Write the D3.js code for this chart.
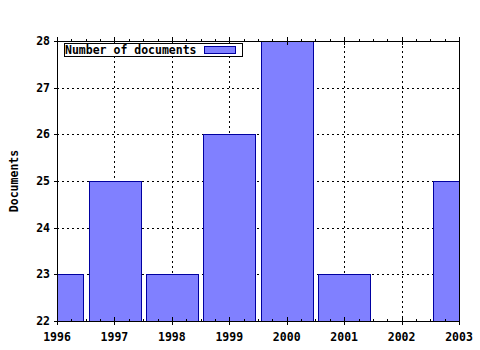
<!DOCTYPE html>
<html>
<head>
<meta charset="utf-8">
<script src="https://cdn.jsdelivr.net/npm/d3@7"></script>
<style>
body { margin: 0; background: #fff; }
text { font-family: "DejaVu Sans Mono", monospace; font-weight: bold; fill: #000; }
</style>
</head>
<body>
<svg width="480" height="350"></svg>
<script>
const years = [1996, 1997, 1998, 1999, 2000, 2001, 2002, 2003];
const documents = [23, 25, 23, 26, 28, 23, 22, 25];
const yTicks = [22, 23, 24, 25, 26, 27, 28];

const plotL = 57, plotR = 459, plotT = 41, plotB = 321;

const svg = d3.select('svg');

const x = d3.scaleLinear().domain([1996, 2003]).range([plotL, plotR]);
const y = d3.scaleLinear().domain([22, 28]).range([plotB, plotT]);
const barW = (x(1997) - x(1996)) * 0.9;

svg.append('rect')
    .attr('x', 0).attr('y', 0).attr('width', 480).attr('height', 350)
    .attr('fill', '#fff');

svg.append('clipPath').attr('id', 'plot')
    .append('rect')
    .attr('x', plotL).attr('y', plotT)
    .attr('width', plotR - plotL).attr('height', plotB - plotT);

// grid
const grid = svg.append('g')
    .attr('stroke', '#000')
    .attr('stroke-dasharray', '2,3')
    .attr('shape-rendering', 'crispEdges');
grid.selectAll('.gy')
    .data(yTicks.slice(1, -1))
    .enter()
    .append('line')
    .attr('x1', plotL).attr('x2', plotR)
    .attr('y1', d => Math.round(y(d)) + 0.5)
    .attr('y2', d => Math.round(y(d)) + 0.5);
grid.selectAll('.gx')
    .data(years.slice(1, -1))
    .enter()
    .append('line')
    .attr('y1', plotT).attr('y2', plotB)
    .attr('x1', d => Math.round(x(d)) + 0.5)
    .attr('x2', d => Math.round(x(d)) + 0.5);

// bars
svg.append('g')
    .attr('clip-path', 'url(#plot)')
    .selectAll('rect')
    .data(years.map((yr, i) => ({ yr: yr, v: documents[i] })).filter(d => d.v > 22))
    .enter()
    .append('rect')
    .attr('x', d => Math.round(x(d.yr) - barW / 2) + 0.5)
    .attr('y', d => Math.round(y(d.v)) + 0.5)
    .attr('width', Math.round(barW))
    .attr('height', d => Math.round(y(22)) - Math.round(y(d.v)))
    .attr('fill', '#8080ff')
    .attr('stroke', '#0000a0')
    .attr('shape-rendering', 'crispEdges');

// axes frame
const frame = svg.append('g')
    .attr('stroke', '#000')
    .attr('shape-rendering', 'crispEdges');
frame.append('rect')
    .attr('x', plotL + 0.5).attr('y', plotT + 0.5)
    .attr('width', plotR - plotL).attr('height', plotB - plotT)
    .attr('fill', 'none');

// x ticks, major and minor (quarters)
const minor = [];
years.slice(0, -1).forEach(yr => { minor.push(yr + 0.25, yr + 0.5, yr + 0.75); });
frame.selectAll('.xt')
    .data(years)
    .enter()
    .append('line')
    .attr('x1', d => Math.round(x(d)) + 0.5)
    .attr('x2', d => Math.round(x(d)) + 0.5)
    .attr('y1', plotB - 4).attr('y2', plotB + 4);
frame.selectAll('.xm')
    .data(minor)
    .enter()
    .append('line')
    .attr('x1', d => Math.round(x(d)) + 0.5)
    .attr('x2', d => Math.round(x(d)) + 0.5)
    .attr('y1', plotB - 2).attr('y2', plotB);
frame.selectAll('.xtt')
    .data(years)
    .enter()
    .append('line')
    .attr('x1', d => Math.round(x(d)) + 0.5)
    .attr('x2', d => Math.round(x(d)) + 0.5)
    .attr('y1', plotT - 4).attr('y2', plotT + 4);
frame.selectAll('.xmt')
    .data(minor)
    .enter()
    .append('line')
    .attr('x1', d => Math.round(x(d)) + 0.5)
    .attr('x2', d => Math.round(x(d)) + 0.5)
    .attr('y1', plotT - 2).attr('y2', plotT);

// y ticks
frame.selectAll('.yt')
    .data(yTicks)
    .enter()
    .append('line')
    .attr('x1', plotL - 3).attr('x2', plotL)
    .attr('y1', d => Math.round(y(d)) + 0.5)
    .attr('y2', d => Math.round(y(d)) + 0.5);

// labels
svg.selectAll('.yl')
    .data(yTicks)
    .enter()
    .append('text')
    .attr('x', 50)
    .attr('y', d => y(d) + 4)
    .attr('text-anchor', 'end')
    .attr('font-size', '11.5px')
    .text(d => d);

svg.selectAll('.xl')
    .data(years)
    .enter()
    .append('text')
    .attr('x', d => x(d))
    .attr('y', 341)
    .attr('text-anchor', 'middle')
    .attr('font-size', '11.5px')
    .text(d => d);

svg.append('text')
    .attr('transform', 'translate(18,' + ((plotT + plotB) / 2) + ') rotate(-90)')
    .attr('text-anchor', 'middle')
    .attr('font-size', '11.5px')
    .text('Documents');

// legend
const lg = svg.append('g').attr('shape-rendering', 'crispEdges');
lg.append('rect')
    .attr('x', 64.5).attr('y', 43.5).attr('width', 178).attr('height', 13)
    .attr('fill', '#fff').attr('stroke', '#000');
lg.append('text')
    .attr('x', 65).attr('y', 54)
    .attr('font-size', '11.5px')
    .text('Number of documents');
lg.append('rect')
    .attr('x', 204.5).attr('y', 46.5).attr('width', 31).attr('height', 7)
    .attr('fill', '#8080ff').attr('stroke', '#0000a0');
</script>
</body>
</html>
